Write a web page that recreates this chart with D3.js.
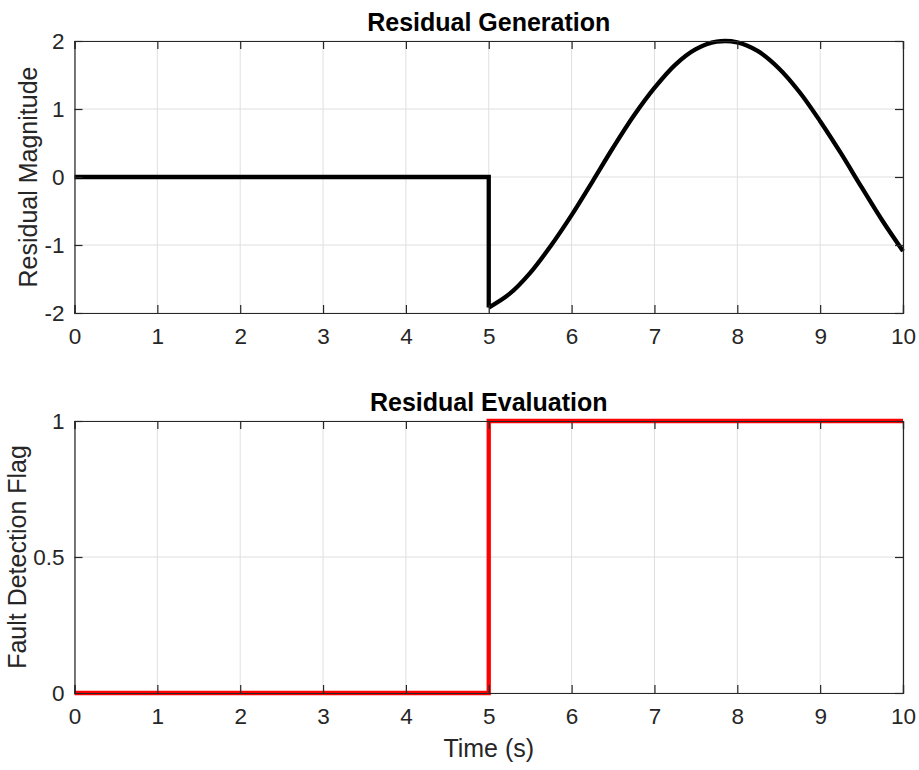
<!DOCTYPE html>
<html>
<head>
<meta charset="utf-8">
<script src="https://cdn.jsdelivr.net/npm/d3@7"></script>
<style>
  body { margin: 0; background: #fff; }
  text { font-family: "Liberation Sans", Arial, sans-serif; fill: #262626; }
</style>
</head>
<body>
<svg id="fig" width="919" height="770"></svg>
<script>
// residual before the fault (flat) and the step at t = 5
const preTime = [0, 5, 5];
const preResidual = [0, 0, -1.92];
// residual after the fault
const postTime = [5, 5.25, 5.5, 5.75, 6, 6.25, 6.5, 6.75, 7, 7.25, 7.5, 7.75, 8, 8.25, 8.5, 8.75, 9, 9.25, 9.5, 9.75, 10];
const postResidual = [-1.92, -1.72, -1.41, -1.01, -0.56, -0.07, 0.43, 0.90, 1.31, 1.65, 1.88, 1.99, 1.98, 1.85, 1.60, 1.25, 0.82, 0.35, -0.15, -0.64, -1.09];
// fault detection flag
const flagTime = [0, 5, 5, 10];
const flagValue = [0, 0, 1, 1];

const xTicks = [0, 1, 2, 3, 4, 5, 6, 7, 8, 9, 10];
const yTicksTop = [-2, -1, 0, 1, 2];
const yTicksBottom = [0, 0.5, 1];

const svg = d3.select('#fig');
const left = 74.5, right = 903;
const tickLen = 8;

const drawPanel = (top, bottom, yDomain, yTicks, title, ylabel, xlabel, lines) => {
    const x = d3.scaleLinear().domain([0, 10]).range([left, right]);
    const y = d3.scaleLinear().domain(yDomain).range([bottom, top]);
    const g = svg.append('g');

    // grid
    g.selectAll('.vg').data(xTicks).join('line')
        .attr('x1', d => x(d)).attr('x2', d => x(d)).attr('y1', top).attr('y2', bottom)
        .attr('stroke', '#dfdfdf').attr('stroke-width', 1);
    g.selectAll('.hg').data(yTicks).join('line')
        .attr('x1', left).attr('x2', right).attr('y1', d => y(d)).attr('y2', d => y(d))
        .attr('stroke', '#dfdfdf').attr('stroke-width', 1);

    // data lines
    lines.forEach(l => {
        const pts = l.xs.map((t, i) => [t, l.ys[i]]);
        const line = d3.line().x(d => x(d[0])).y(d => y(d[1])).curve(l.curve || d3.curveLinear);
        g.append('path').datum(pts).attr('d', line)
            .attr('fill', 'none').attr('stroke', l.color).attr('stroke-width', 4.3)
            .attr('stroke-linejoin', 'miter');
    });

    // axes (box with inward ticks)
    const xb = d3.axisBottom(x).tickValues(xTicks).tickSize(-tickLen).tickPadding(15).tickFormat(d3.format('d'));
    const xt = d3.axisTop(x).tickValues(xTicks).tickSize(-tickLen).tickFormat('');
    const yl = d3.axisLeft(y).tickValues(yTicks).tickSize(-tickLen).tickPadding(10).tickFormat(d => d);
    const yr = d3.axisRight(y).tickValues(yTicks).tickSize(-tickLen).tickFormat('');
    const axes = [
        g.append('g').attr('transform', `translate(0,${bottom})`).call(xb),
        g.append('g').attr('transform', `translate(0,${top})`).call(xt),
        g.append('g').attr('transform', `translate(${left},0)`).call(yl),
        g.append('g').attr('transform', `translate(${right},0)`).call(yr)
    ];
    axes.forEach(a => {
        a.select('.domain').attr('stroke', '#262626').attr('stroke-width', 1.2);
        a.selectAll('.tick line').attr('stroke', '#262626').attr('stroke-width', 1.2);
        a.selectAll('.tick text').attr('font-size', 22.5).attr('fill', '#262626')
            .attr('font-family', '"Liberation Sans", Arial, sans-serif');
    });

    svg.append('text').attr('x', (left + right) / 2).attr('y', top - 10)
        .attr('text-anchor', 'middle').attr('font-size', 25).attr('font-weight', 'bold')
        .style('fill', '#000').text(title);
    svg.append('text')
        .attr('transform', `translate(${ylabel.x},${(top + bottom) / 2}) rotate(-90)`)
        .attr('text-anchor', 'middle').attr('font-size', 25).text(ylabel.text);
    if (xlabel) {
        svg.append('text').attr('x', (left + right) / 2).attr('y', bottom + 64)
            .attr('text-anchor', 'middle').attr('font-size', 25).text(xlabel);
    }
};

drawPanel(41, 313, [-2, 2], yTicksTop, 'Residual Generation',
    { x: 37, text: 'Residual Magnitude' }, null,
    [{ xs: preTime, ys: preResidual, color: '#000' },
     { xs: postTime, ys: postResidual, color: '#000', curve: d3.curveCatmullRom }]);

drawPanel(421, 693, [0, 1], yTicksBottom, 'Residual Evaluation',
    { x: 26, text: 'Fault Detection Flag' }, 'Time (s)',
    [{ xs: flagTime, ys: flagValue, color: '#ff0000' }]);
</script>
</body>
</html>
